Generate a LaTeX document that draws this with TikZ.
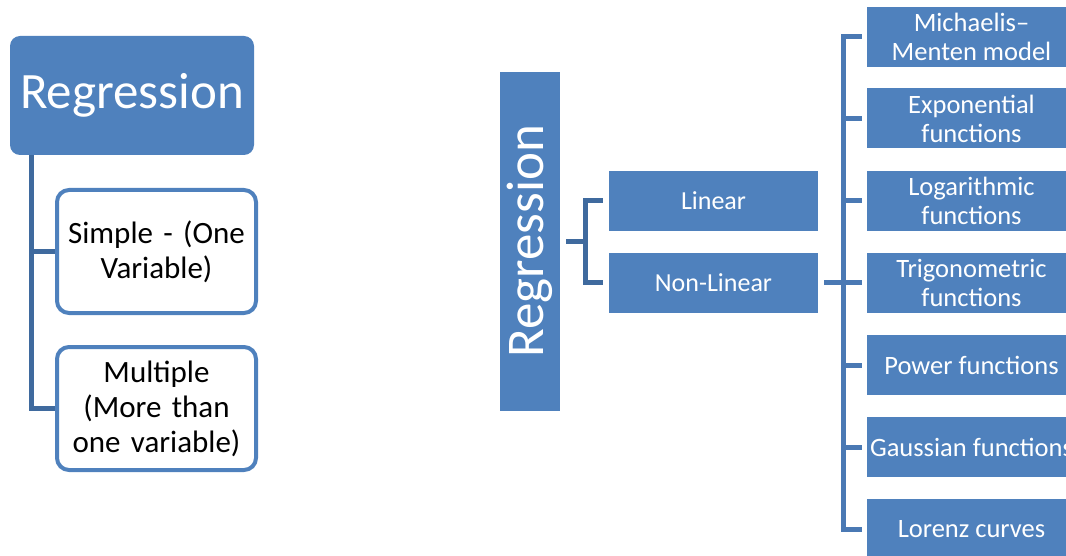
\documentclass[tikz,border=0pt]{standalone}
\usepackage{fontspec}
\setmainfont{Carlito}
\definecolor{boxblue}{HTML}{4F81BD}
\definecolor{linkdark}{HTML}{3F6A9E}
\definecolor{linklight}{HTML}{4A79B4}
\begin{document}
\begin{tikzpicture}[x=1pt,y=-1pt,
  titlebox/.style={fill=boxblue, draw=none, rounded corners=10pt,
    minimum width=244pt, minimum height=119pt, inner sep=0pt,
    text=white, font=\fontsize{51}{60}\selectfont},
  leafbox/.style={fill=white, draw=boxblue, line width=4pt, rounded corners=12pt,
    minimum width=199pt, minimum height=123pt, inner sep=0pt,
    align=center, text width=195pt, font=\fontsize{31}{35}\selectfont},
  sidebox/.style={fill=boxblue, draw=none, minimum width=60pt, minimum height=339pt,
    inner sep=0pt, text=white, font=\fontsize{53}{60}\selectfont},
  kindbox/.style={fill=boxblue, draw=none, minimum width=209pt, minimum height=60pt,
    inner sep=0pt, text=white, font=\fontsize{26}{30}\selectfont},
  funcbox/.style={fill=boxblue, draw=none, minimum width=209pt, minimum height=60pt,
    inner sep=0pt, text=white, align=center, font=\fontsize{26.5}{29}\selectfont},
  leftlink/.style={draw=linkdark, line width=5pt},
  rightlink/.style={draw=linklight, line width=5pt}]
\useasboundingbox (0,0) rectangle (1066,556);

% left tree
\node[titlebox] (regA) at (132,95.5) {Regression};
\node[leafbox] (simple) at (156.5,251.5) {Simple - (One\\Variable)};
\node[leafbox] (multiple) at (156.5,408.5) {Multiple\\(More than\\one variable)};
\draw[leftlink] ([xshift=22pt]regA.south west) |- (simple.west);
\draw[leftlink] ([xshift=22pt]regA.south west) |- (multiple.west);

% right tree
\node[sidebox] (regB) at (530,241.5) {\rotatebox{90}{Regression}};
\node[kindbox] (linear) at (713.5,201) {Linear};
\node[kindbox] (nonlinear) at (713.5,283) {Non-Linear};
\coordinate (forkA) at (585,241.5);
\draw[leftlink] ([xshift=6pt]regB.east) -- (forkA);
\draw[leftlink] (forkA) |- ([xshift=-6pt]linear.west);
\draw[leftlink] (forkA) |- ([xshift=-6pt]nonlinear.west);

\begin{scope}
\clip (0,0) rectangle (1066,556);
\node[funcbox] (mm) at (971.5,37) {Michaelis–\\Menten model};
\node[funcbox] (expo) at (971.5,118.5) {Exponential\\functions};
\node[funcbox] (loga) at (971.5,201) {Logarithmic\\functions};
\node[funcbox] (trig) at (971.5,283) {Trigonometric\\functions};
\node[funcbox] (power) at (971.5,365) {Power functions};
\node[funcbox] (gauss) at (971.5,447) {Gaussian functions};
\node[funcbox] (lorenz) at (971.5,529) {Lorenz curves};
\end{scope}
\coordinate (forkB) at (843,283);
\draw[rightlink] ([xshift=6pt]nonlinear.east) -- (forkB);
\foreach \f in {mm,expo,loga,trig,power,gauss,lorenz}
  \draw[rightlink] (forkB) |- ([xshift=-5pt]\f.west);
\end{tikzpicture}
\end{document}
